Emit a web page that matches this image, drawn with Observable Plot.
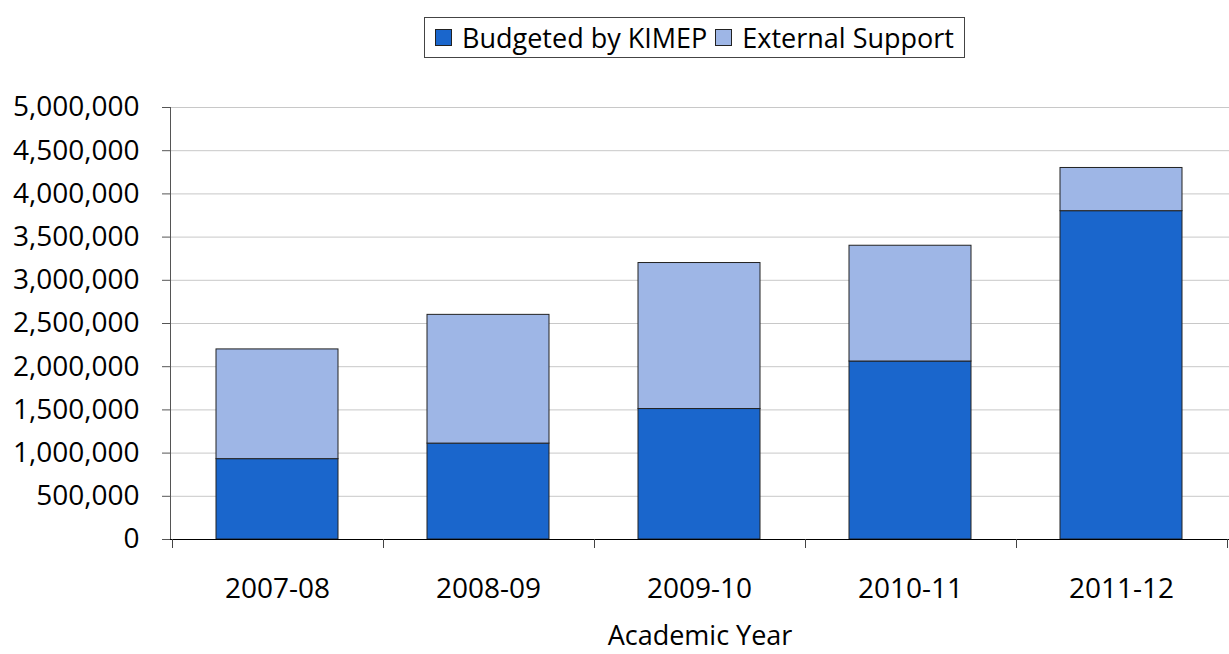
<!DOCTYPE html>
<html>
<head>
<meta charset="utf-8">
<script src="https://cdn.jsdelivr.net/npm/d3@7"></script>
<script src="https://cdn.jsdelivr.net/npm/@observablehq/plot@0.6"></script>
<style>
  html, body { margin: 0; padding: 0; background: #fff; }
  body { width: 1229px; height: 654px; position: relative; overflow: hidden; font-family: "Open Sans", sans-serif; }
  #legend { position: absolute; z-index: 2; left: 424px; top: 17px; height: 41px; box-sizing: border-box; border: 1px solid #444; background: #fff;
            display: flex; align-items: center; padding: 0 10px 0 10px; font-size: 27px; color: #000; white-space: nowrap; }
  #legend .sw { width: 17px; height: 17px; border: 1px solid #222; margin-right: 10px; box-sizing: border-box; }
  #legend .item { display: flex; align-items: center; margin-right: 8px; }
  #legend .item:last-child { margin-right: 0; }
  #chart { position: absolute; z-index: 1; left: 0; top: 0; }
</style>
</head>
<body>
<div id="legend"></div>
<div id="chart"></div>
<script>
const years = ["2007-08", "2008-09", "2009-10", "2010-11", "2011-12"];
const budgeted = [930000, 1110000, 1510000, 2060000, 3800000];
const external = [1270000, 1490000, 1690000, 1340000, 500000];
const seriesNames = ["Budgeted by KIMEP", "External Support"];
const seriesColors = ["#1a66cc", "#9eb6e6"];
const yTicks = [0, 500000, 1000000, 1500000, 2000000, 2500000, 3000000, 3500000, 4000000, 4500000, 5000000];

const data = [];
years.forEach((y, i) => {
  data.push({year: y, series: seriesNames[0], value: budgeted[i]});
  data.push({year: y, series: seriesNames[1], value: external[i]});
});

const FONT = "Open Sans, sans-serif";
const plot = Plot.plot({
  width: 1229,
  height: 654,
  marginLeft: 170,
  marginRight: 0,
  marginTop: 107,
  marginBottom: 115,
  style: {fontFamily: FONT, fontSize: "28px", color: "#000", background: "transparent"},
  x: {domain: years, paddingInner: 0.42, paddingOuter: 0.21, label: null},
  y: {domain: [0, 5000000], label: null},
  color: {domain: seriesNames, range: seriesColors},
  marks: [
    Plot.gridY(yTicks, {stroke: "#c8c8c8", strokeOpacity: 1, strokeWidth: 1}),
    Plot.barY(data, {x: "year", y: "value", fill: "series", stroke: "#222", strokeWidth: 1, order: seriesNames}),
    Plot.axisY(yTicks, {tickSize: 8, tickPadding: 23, tickFormat: d3.format(","), fontSize: 28, stroke: "#555", label: null}),
    Plot.axisX({tickSize: 0, tickPadding: 39, fontSize: 28, label: null}),
    Plot.frame({anchor: "left", stroke: "#555"}),
    Plot.ruleY([0], {stroke: "#000", strokeWidth: 1}),
    Plot.text(["Academic Year"], {frameAnchor: "bottom", dy: 105, fontSize: 27, fill: "#000", text: d => d})
  ]
});
document.getElementById("chart").appendChild(plot);

// category boundary ticks below the x-axis line, computed from the band scale
const xs = plot.scale("x");
const step = xs.step;
const gap = (step - xs.bandwidth) / 2;
const svg = d3.select(plot);
const y0 = plot.scale("y").apply(0);
const bounds = years.map(c => xs.apply(c) - gap);
bounds.push(xs.apply(years[years.length - 1]) + xs.bandwidth + gap);
svg.append("g").selectAll("line").data(bounds).join("line")
  .attr("x1", d => Math.round(d) + 0.5).attr("x2", d => Math.round(d) + 0.5)
  .attr("y1", y0).attr("y2", y0 + 9)
  .attr("stroke", "#444").attr("stroke-width", 1);

// legend
const legend = document.getElementById("legend");
seriesNames.forEach((name, i) => {
  const item = document.createElement("div");
  item.className = "item";
  const sw = document.createElement("div");
  sw.className = "sw";
  sw.style.background = seriesColors[i];
  const label = document.createElement("span");
  label.textContent = name;
  item.appendChild(sw);
  item.appendChild(label);
  legend.appendChild(item);
});
</script>
</body>
</html>
